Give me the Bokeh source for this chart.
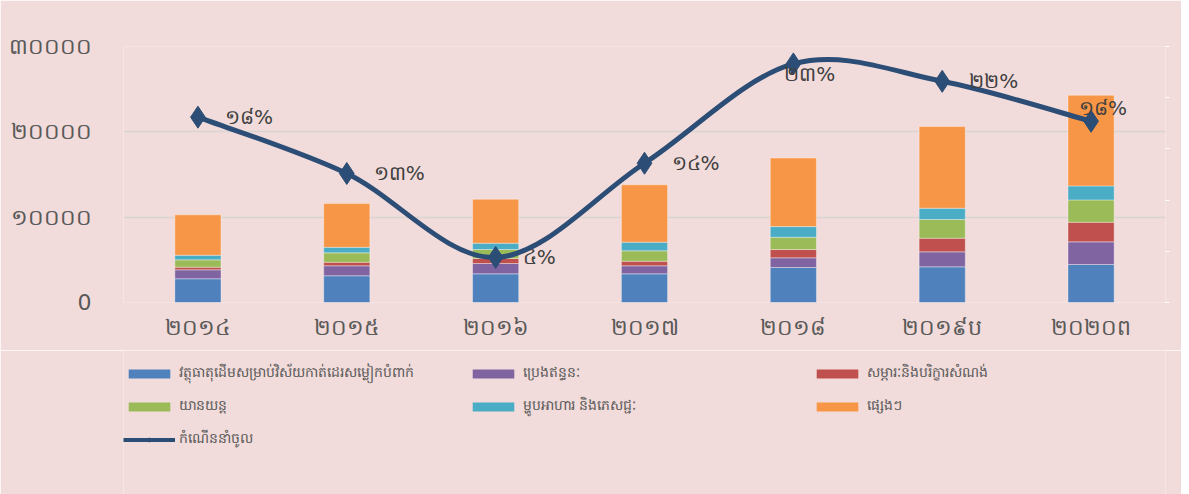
from bokeh.plotting import figure
from bokeh.models import (ColumnDataSource, FactorRange, Range1d, LinearAxis, FixedTicker,
                          Legend, LegendItem, LabelSet)
from bokeh.layouts import column
from bokeh.core.properties import value
from bokeh.embed import file_html
from bokeh.resources import INLINE

# ---------------- data ----------------
years = ["២០១៤", "២០១៥", "២០១៦", "២០១៧", "២០១៨", "២០១៩ប", "២០២០ព"]
series_names = [
    "វត្ថុធាតុដើមសម្រាប់វិស័យកាត់ដេរសម្លៀកបំពាក់",
    "ប្រេងឥន្ធនៈ",
    "សម្ភារៈនិងបរិក្ខារសំណង់",
    "យានយន្ត",
    "ម្ហូបអាហារ និងភេសជ្ជៈ",
    "ផ្សេងៗ",
]
garment_materials = [2780, 3130, 3360, 3360, 4100, 4180, 4450]
fuel = [1050, 1170, 1210, 940, 1135, 1755, 2655]
construction = [310, 420, 590, 540, 970, 1600, 2300]
vehicles = [860, 1100, 1050, 1220, 1440, 2190, 2615]
food_beverage = [540, 650, 740, 1010, 1250, 1320, 1640]
others = [4730, 5120, 5150, 6720, 8040, 9570, 10620]
growth_name = "កំណើននាំចូល"
growth = [0.181, 0.126, 0.044, 0.136, 0.233, 0.216, 0.177]
growth_labels = ["១៨%", "១៣%", "៤%", "១៤%", "២៣%", "២២%", "១៨%"]
y_ticks = [0, 10000, 20000, 30000]
y_tick_labels = ["0", "១០០០០", "២០០០០", "៣០០០០"]

# ---------------- style ----------------
colors = ["#4F81BD", "#8064A2", "#C0504D", "#9BBB59", "#4BACC6", "#F79646"]
line_color = "#2C4D75"
bg = "#F2DCDB"
text_color = "#595959"
font = "DejaVu Sans"
label_dx = [27, 27, 27, 27, -9, 27, -12]
label_dy = [0, 0, 0, 0, -10, 0, 13]

series_vals = [garment_materials, fuel, construction, vehicles, food_beverage, others]
keys = ["s%d" % i for i in range(len(series_vals))]
data = {"year": years}
for k, v in zip(keys, series_vals):
    data[k] = v
src = ColumnDataSource(data)

p = figure(x_range=FactorRange(*years, range_padding=0), y_range=Range1d(0, 30000),
           frame_width=1042, frame_height=256, output_backend="svg", toolbar_location=None,
           min_border_left=123, min_border_right=16, min_border_top=46, min_border_bottom=48)
p.background_fill_color = bg
p.border_fill_color = bg
p.outline_line_color = None
p.extra_y_ranges = {"pct": Range1d(0, 0.25)}

# bars
p.vbar_stack(keys, x="year", width=0.31, source=src, fill_color=colors,
             line_color="white", line_alpha=0.35, line_width=1)

# smooth growth line via Bezier segments (Catmull-Rom style control points)
n = len(years)
xs = [i + 0.5 for i in range(n)]
bx0, by0, bx1, by1, cx0, cy0, cx1, cy1 = [], [], [], [], [], [], [], []
for i in range(n - 1):
    xm1, ym1 = (xs[i - 1], growth[i - 1]) if i > 0 else (xs[i], growth[i])
    xp2, yp2 = (xs[i + 2], growth[i + 2]) if i + 2 < n else (xs[i + 1], growth[i + 1])
    bx0.append(xs[i]); by0.append(growth[i])
    bx1.append(xs[i + 1]); by1.append(growth[i + 1])
    cx0.append(xs[i] + (xs[i + 1] - xm1) / 6); cy0.append(growth[i] + (growth[i + 1] - ym1) / 6)
    cx1.append(xs[i + 1] - (xp2 - xs[i]) / 6); cy1.append(growth[i + 1] - (yp2 - growth[i]) / 6)
bsrc = ColumnDataSource(dict(x0=bx0, y0=by0, x1=bx1, y1=by1, cx0=cx0, cy0=cy0, cx1=cx1, cy1=cy1))
p.bezier(x0="x0", y0="y0", x1="x1", y1="y1", cx0="cx0", cy0="cy0", cx1="cx1", cy1="cy1",
         source=bsrc, line_color=line_color, line_width=5, y_range_name="pct")

gsrc = ColumnDataSource(dict(year=years, g=growth, lab=growth_labels, dx=label_dx, dy=label_dy))
p.scatter(x="year", y="g", source=gsrc, marker="diamond", size=22, fill_color=line_color,
          line_color=line_color, y_range_name="pct")

labels = LabelSet(x="year", y="g", text="lab", source=gsrc, y_range_name="pct",
                  x_offset="dx", y_offset="dy", text_baseline="middle", text_align="left",
                  text_font=value(font), text_font_size="20px", text_color="#404040")
p.add_layout(labels)

# axes
p.yaxis.ticker = FixedTicker(ticks=y_ticks)
p.yaxis.major_label_overrides = {t: l for t, l in zip(y_ticks, y_tick_labels)}
p.yaxis.axis_line_color = None
p.yaxis.major_tick_line_color = None
p.yaxis.minor_tick_line_color = None
p.yaxis.major_label_standoff = 26
p.yaxis.major_label_text_font = font
p.yaxis.major_label_text_font_size = "22px"
p.yaxis.major_label_text_color = text_color

p.xaxis.axis_line_color = None
p.xaxis.major_tick_line_color = None
p.xaxis.major_label_standoff = 6
p.xaxis.major_label_text_font = font
p.xaxis.major_label_text_font_size = "22px"
p.xaxis.major_label_text_color = text_color

pct_ticks = [0, 0.05, 0.1, 0.15, 0.2, 0.25]
ra = LinearAxis(y_range_name="pct", ticker=FixedTicker(ticks=pct_ticks),
                axis_line_color=None, major_tick_line_color="white", major_tick_in=0,
                major_tick_out=4, minor_tick_line_color=None,
                major_label_overrides={t: "" for t in pct_ticks}, major_label_standoff=0)
p.add_layout(ra, "right")

p.xgrid.grid_line_color = None
p.ygrid.grid_line_color = "#D9D4D4"
p.ygrid.grid_line_width = 1.5

# ---------------- legend panel (separate figure; its glyphs lie far outside its view) ----------------
pl = figure(x_range=FactorRange(*years), y_range=Range1d(100000, 100001), width=1181, height=144,
            output_backend="svg", toolbar_location=None, x_axis_location=None,
            y_axis_location=None, min_border=0)
pl.background_fill_color = bg
pl.border_fill_color = bg
pl.outline_line_color = None
pl.grid.visible = False
leg_bars = pl.vbar_stack(keys, x="year", width=0.31, source=src, fill_color=colors,
                         line_color=None)
leg_line = pl.line(x="year", y="g", source=gsrc, line_color=line_color, line_width=4)
leg_mk = pl.scatter(x="year", y="g", source=gsrc, marker="diamond", size=10,
                    fill_color=line_color, line_color=line_color)

items = [LegendItem(label=nm, renderers=[r]) for nm, r in zip(series_names, leg_bars)]
items.append(LegendItem(label=growth_name, renderers=[leg_line, leg_mk]))
lg = Legend(items=items, orientation="horizontal", ncols=3, location=(0, 44),
            glyph_width=52, glyph_height=11, label_height=20, label_width=276,
            label_standoff=4, spacing=12, padding=0, margin=0,
            label_text_font=font, label_text_font_size="14px", label_text_color=text_color,
            background_fill_alpha=0, border_line_color=None)
pl.add_layout(lg, "center")

layout = column(p, pl, spacing=0)
open("out.html", "w").write(file_html(layout, INLINE))
